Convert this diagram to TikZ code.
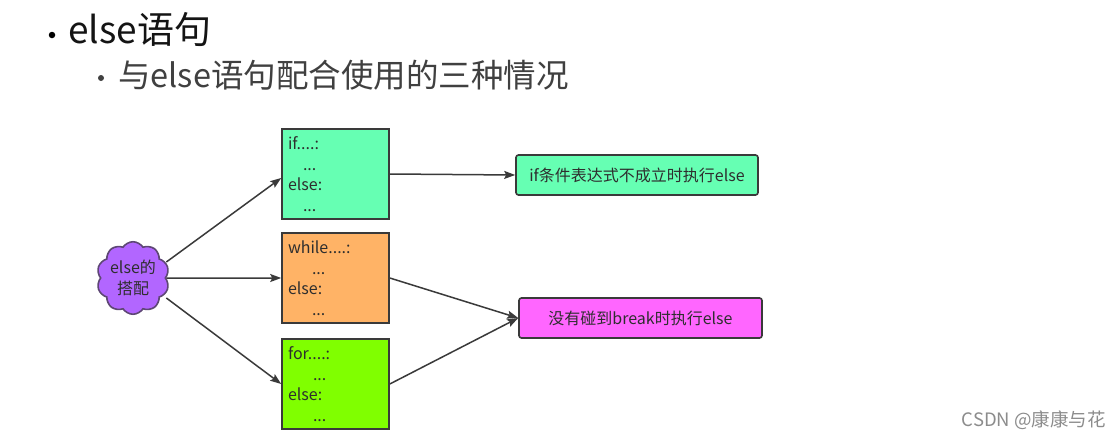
\documentclass[tikz,border=0pt]{standalone}
\usepackage{fontspec}
\setmainfont{Noto Sans CJK SC}
\usetikzlibrary{shapes.symbols,arrows.meta}
\definecolor{mintc}{HTML}{66FFB3}
\definecolor{orangec}{HTML}{FFB366}
\definecolor{limec}{HTML}{80FF00}
\definecolor{magc}{HTML}{FF66FF}
\definecolor{purc}{HTML}{B266FF}
\definecolor{edgec}{HTML}{3A3A3A}
\definecolor{txtc}{HTML}{2E2E2E}
\tikzset{
  codebox/.style={draw=edgec, line width=1.6pt, minimum width=107pt, minimum height=90pt,
    text width=95pt, align=left, inner sep=4pt, text=txtc,
    font=\fontsize{16}{20.5}\selectfont},
  resbox/.style={draw=edgec, line width=1.6pt, rounded corners=2.5pt, minimum height=40pt,
    text=txtc, font=\fontsize{16}{18}\selectfont},
  conn/.style={draw=edgec, line width=1.5pt, -{Stealth[length=11pt,width=8pt,inset=2pt]}},
  bulletc/.style={circle, fill=#1, inner sep=0pt, minimum size=6.5pt},
}
\begin{document}
\begin{tikzpicture}[x=1pt,y=-1pt]
\path[use as bounding box, fill=white] (0,0) rectangle (1120,439);
% headings
\node[bulletc=black] (b1) at (52,35) {};
\node[anchor=west, inner sep=0pt, font=\fontsize{37}{42}\selectfont, text=black!92] (title) at (68,30) {else语句};
\node[bulletc=black!75, minimum size=6pt] (b2) at (101,78) {};
\node[anchor=west, inner sep=0pt, font=\fontsize{32.5}{36}\selectfont, text=black!75] (sub) at (118,75) {与else语句配合使用的三种情况};
% cloud
\node[cloud, cloud puffs=10, cloud puff arc=115, draw=edgec!70!purc, line width=1.6pt, fill=purc,
  minimum width=72pt, minimum height=60pt, inner sep=0pt, align=center, text=txtc,
  font=\fontsize{16}{21}\selectfont] (cl) at (133,278) {else的\\搭配};
% code boxes
\node[codebox, fill=mintc] (ifb) at (335.5,174) {if....:\\\hspace{15pt}...\\else:\\\hspace{15pt}...};
\node[codebox, fill=orangec] (whb) at (335.5,278) {while....:\\\hspace{24pt}...\\else:\\\hspace{24pt}...};
\node[codebox, fill=limec] (forb) at (335.5,384) {for....:\\\hspace{25pt}...\\else:\\\hspace{25pt}...};
% result boxes
\node[resbox, fill=mintc, minimum width=242pt] (r1) at (637,175) {if条件表达式不成立时执行else};
\node[resbox, fill=magc, minimum width=243pt] (r2) at (640.5,318) {没有碰到break时执行else};
% connectors
\draw[conn] ([yshift=16pt]cl.east) -- ([yshift=-4pt]ifb.west);
\draw[conn] (cl.east) -- (whb.west);
\draw[conn] ([yshift=-20pt]cl.east) -- (forb.west);
\draw[conn] (ifb.east) -- (r1.west);
\draw[conn] (whb.east) -- (r2.west);
\draw[conn] (forb.east) -- (r2.west);
% watermark
\node[anchor=east, inner sep=0pt, text=black!45, font=\fontsize{18.5}{20}\selectfont] (wm) at (1106,420) {CSDN @康康与花};
\end{tikzpicture}
\end{document}
